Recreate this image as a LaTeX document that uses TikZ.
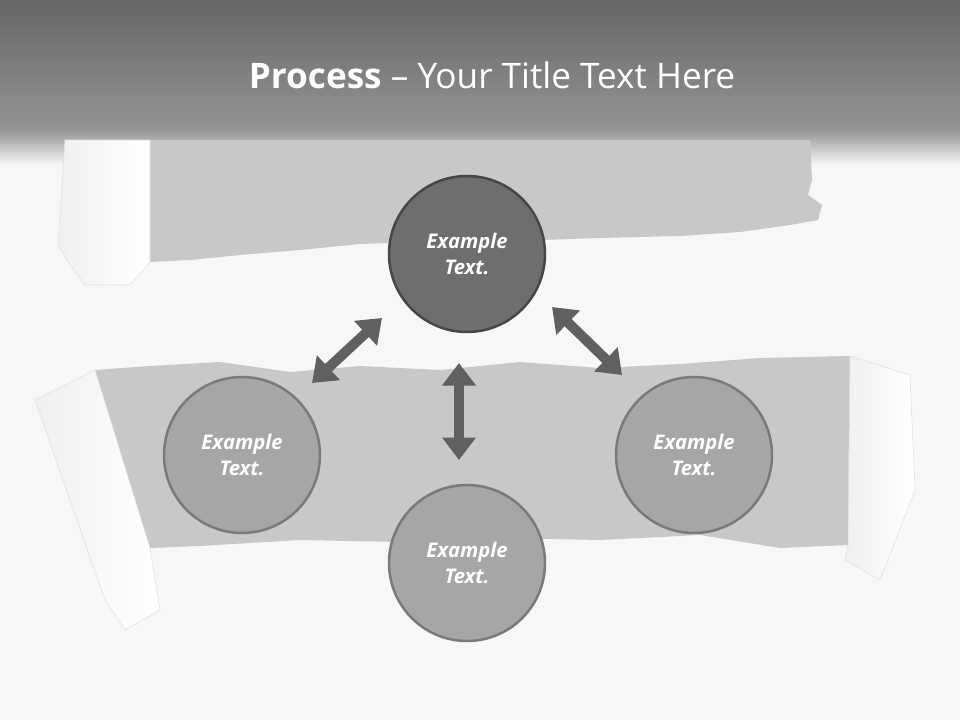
\documentclass[tikz,border=0pt]{standalone}
\usepackage{fontspec}
\setmainfont{Open Sans}
\usetikzlibrary{arrows.meta}
\definecolor{band}{HTML}{C8C8C8}
\definecolor{arr}{HTML}{606060}
\tikzset{
  circ/.style={circle, minimum size=3.12cm, line width=0.05cm, draw=#1, text=white, align=center, font=\fontsize{11.5}{15}\selectfont\bfseries\itshape},
  dbl/.style={arr, line width=0.2cm, {Triangle[length=0.45cm,width=0.65cm]}-{Triangle[length=0.45cm,width=0.65cm]}},
  curl/.style={left color=gray!12, right color=white, draw=gray!25, line width=0.3pt}
}
\begin{document}
\begin{tikzpicture}[x=0.02cm,y=-0.02cm]
\useasboundingbox (0,0) rectangle (960,720);
\fill[gray!6] (0,0) rectangle (960,720);
% title gradient
\shade[top color=black!60, bottom color=black!42] (0,0) rectangle (960,130);
\shade[top color=black!42, bottom color=gray!6] (0,130) rectangle (960,165);
% top band
\fill[band] (150,140) -- (810,140) -- (812,180) -- (808,195) -- (822,205) -- (818,220) -- (790,225)
 -- (740,232) -- (680,236) -- (600,238) -- (540,240) -- (480,236) -- (420,242) -- (360,244) -- (300,250)
 -- (240,255) -- (190,260) -- (150,262) -- cycle;
% lower band
\fill[band] (95,370) -- (150,366) -- (220,362) -- (290,372) -- (360,366) -- (440,370) -- (520,362)
 -- (600,368) -- (680,364) -- (760,358) -- (850,356) -- (852,420) -- (848,545) -- (780,548) -- (700,535)
 -- (600,540) -- (500,538) -- (400,542) -- (300,540) -- (200,546) -- (150,548) -- (120,500) -- cycle;
% curls
\shade[curl] (65,140) -- (150,140) -- (150,262) -- (130,285) -- (85,285) -- (70,265) -- (58,245) -- cycle;
\shade[curl] (35,400) -- (95,370) -- (150,548) -- (160,610) -- (125,630) -- (105,600) -- cycle;
\shade[curl] (850,356) -- (910,375) -- (915,490) -- (880,580) -- (845,560) -- (848,545) -- cycle;
% title
\node[text=white, font=\fontsize{20}{24}\selectfont] (title) at (492,75) {\textbf{Process} -- Your Title Text Here};
% circles
\node[circ=black!72, fill=black!57] (c1) at (467,254) {Example\\Text.};
\node[circ=black!52, fill=black!35] (c2) at (242,455) {Example\\Text.};
\node[circ=black!52, fill=black!35] (c3) at (694,455) {Example\\Text.};
\node[circ=black!52, fill=black!35] (c4) at (467,563) {Example\\Text.};
% arrows
\coordinate (a1) at (312,383); \coordinate (b1) at (382,318);
\coordinate (a2) at (552,307); \coordinate (b2) at (622,375);
\coordinate (a3) at (459,363); \coordinate (b3) at (459,460);
\draw[dbl] (a1) -- (b1);
\draw[dbl] (a2) -- (b2);
\draw[dbl] (a3) -- (b3);
\end{tikzpicture}
\end{document}
